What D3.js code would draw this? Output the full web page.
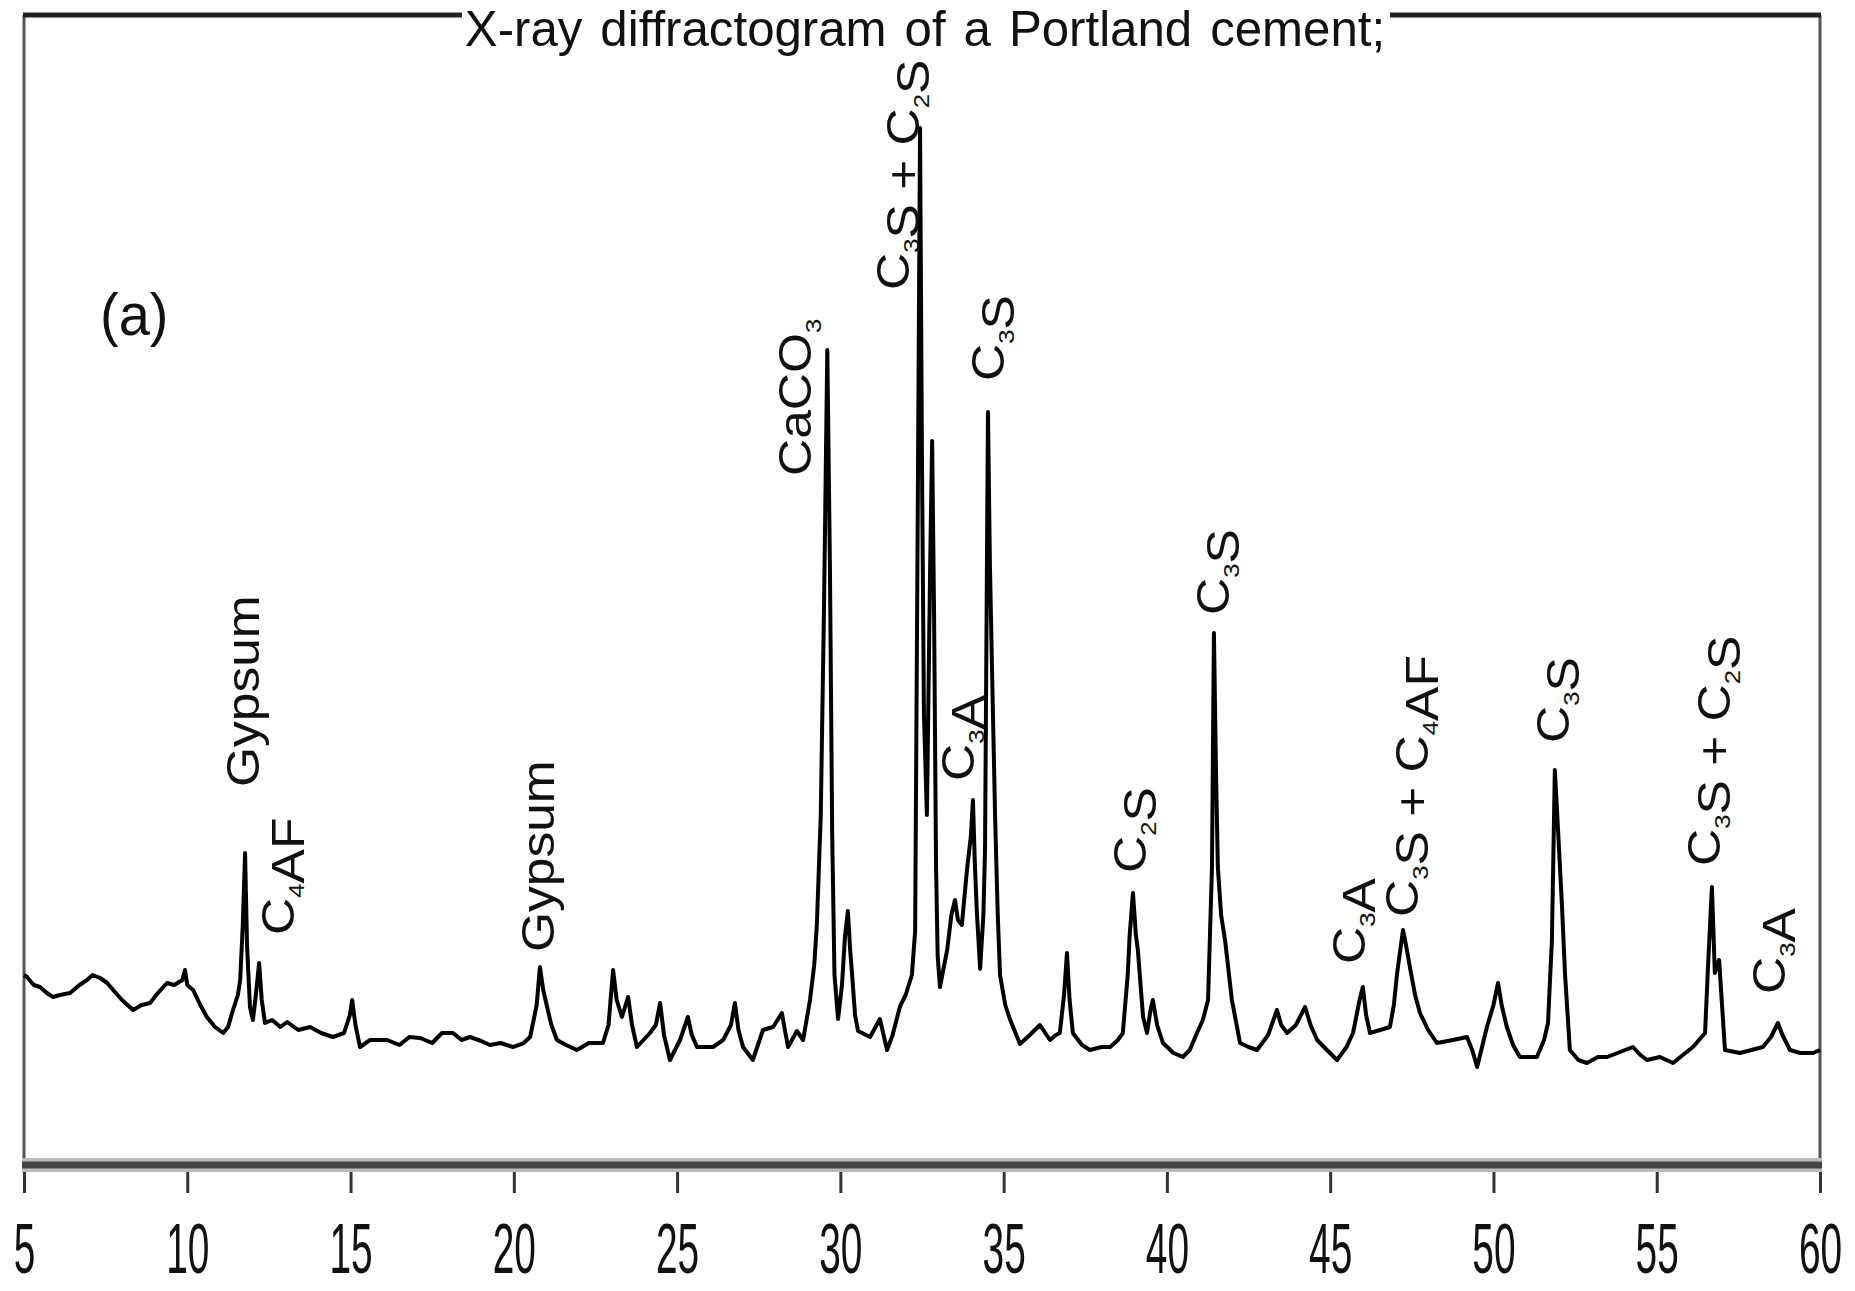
<!DOCTYPE html>
<html>
<head>
<meta charset="utf-8">
<script src="https://cdn.jsdelivr.net/npm/d3@7"></script>
<style>
  body { margin: 0; background: #fff; }
  svg { display: block; }
</style>
</head>
<body>
<svg width="1855" height="1291"></svg>
<script>
// 2-theta (degrees)
var twoTheta = [5.00,5.09,5.30,5.49,5.70,5.89,6.10,6.41,6.70,6.93,7.10,7.33,7.55,7.73,8.00,8.34,8.60,8.86,9.10,9.38,9.60,9.85,9.93,10.00,10.18,10.40,10.60,10.85,11.10,11.25,11.40,11.55,11.62,11.70,11.77,11.83,11.92,12.01,12.10,12.20,12.28,12.38,12.60,12.85,13.06,13.40,13.76,14.10,14.46,14.80,14.98,15.05,15.15,15.29,15.60,16.12,16.50,16.80,17.13,17.50,17.80,18.14,18.40,18.66,19.00,19.27,19.60,19.97,20.30,20.50,20.70,20.80,20.90,21.02,21.15,21.32,21.60,21.93,22.30,22.73,22.90,23.04,23.15,23.31,23.50,23.62,23.77,24.17,24.35,24.48,24.60,24.78,25.09,25.33,25.45,25.61,26.10,26.41,26.65,26.77,26.88,27.02,27.32,27.63,27.94,28.21,28.30,28.40,28.67,28.86,29.07,29.20,29.28,29.40,29.50,29.60,29.68,29.75,29.82,29.93,30.05,30.14,30.23,30.30,30.36,30.45,30.54,30.91,31.21,31.43,31.60,31.83,32.00,32.19,32.29,32.36,32.44,32.50,32.56,32.65,32.75,32.81,32.87,32.93,32.98,33.05,33.27,33.40,33.51,33.60,33.72,33.88,34.00,34.06,34.12,34.18,34.28,34.38,34.43,34.52,34.58,34.64,34.74,34.82,34.89,35.05,35.19,35.50,35.80,36.11,36.42,36.60,36.72,36.85,36.94,37.02,37.12,37.40,37.64,38.00,38.26,38.50,38.65,38.80,38.86,38.96,39.05,39.11,39.27,39.39,39.50,39.57,39.70,39.88,40.20,40.49,40.70,40.92,41.10,41.26,41.38,41.44,41.50,41.56,41.66,41.78,41.99,42.24,42.50,42.76,43.10,43.37,43.50,43.68,43.95,44.23,44.40,44.60,44.90,45.21,45.50,45.70,45.90,46.00,46.10,46.22,46.53,46.83,46.95,47.05,47.23,47.35,47.44,47.60,47.75,48.00,48.27,48.76,49.19,49.35,49.50,49.80,50.00,50.14,50.25,50.41,50.60,50.81,51.33,51.55,51.67,51.79,51.88,51.97,52.10,52.19,52.34,52.60,52.86,53.20,53.48,53.80,54.27,54.50,54.70,55.10,55.50,55.80,56.11,56.48,56.57,56.69,56.74,56.78,56.85,56.91,56.98,57.09,57.55,57.90,58.25,58.50,58.71,58.85,59.08,59.40,59.79,60.00];

// intensity (arbitrary counts)
var intensity = [190,188,180,178,172,168,170,172,180,185,190,187,182,175,165,155,160,162,172,182,180,185,195,180,175,160,148,138,132,138,155,170,185,240,312,220,158,145,170,202,165,142,145,138,143,135,138,132,128,132,150,165,140,118,125,125,120,128,127,122,132,132,125,128,124,120,122,118,122,128,160,198,175,158,140,125,120,115,122,122,140,195,165,148,168,140,118,132,140,162,130,105,125,148,130,118,118,125,140,162,135,118,105,135,138,152,135,118,134,125,165,200,240,350,560,815,600,330,190,146,180,228,254,215,190,150,134,128,146,115,130,159,170,190,234,600,1037,700,450,350,600,724,550,300,209,178,215,250,265,245,240,296,330,365,300,253,196,250,315,753,600,503,346,250,190,160,146,121,130,140,125,130,132,170,212,165,132,120,115,118,118,125,132,190,230,272,230,215,148,132,155,165,140,122,112,108,115,132,145,165,298,532,400,298,250,225,165,122,118,115,130,155,140,132,140,158,140,125,115,105,118,132,165,178,150,132,135,138,160,192,235,215,198,170,152,135,122,125,128,115,98,138,160,182,160,138,120,108,108,125,142,225,395,340,258,192,115,105,102,108,108,112,118,110,105,108,102,110,118,132,198,278,230,192,200,205,170,115,112,115,118,128,142,130,115,112,112,115];

// peak annotations: label text ("_n" = subscript), 2-theta of label, intensity where label starts
var peakLabels = ["Gypsum","C_4AF","Gypsum","CaCO_3","C_3S + C_2S","C_3A","C_3S","C_2S","C_3S","C_3A","C_3S + C_4AF","C_3S","C_3S + C_2S","C_3A"];
var labelTheta = [11.71,12.78,20.74,28.61,31.61,33.60,34.52,38.87,41.41,45.58,47.20,51.82,56.45,58.44];
var labelLevel = [378,230,213,689,875,384,784,292,550,201,248,422,299,171];

var tickValues = [5,10,15,20,25,30,35,40,45,50,55,60];
var title = "X-ray diffractogram of a Portland cement;";
var panel = "(a)";

var svg = d3.select("svg"),
    margin = {top: 15, right: 35, bottom: 126, left: 24},
    width = +svg.attr("width") - margin.left - margin.right,
    height = +svg.attr("height") - margin.top - margin.bottom;

var x = d3.scaleLinear().domain([5, 60]).range([margin.left, margin.left + width]);
var y = d3.scaleLinear().domain([0, 1150]).range([margin.top + height, margin.top]);

var font = "'Liberation Sans', Arial, Helvetica, sans-serif";

// frame
svg.append("line")
    .attr("x1", x(5)).attr("x2", x(5))
    .attr("y1", y(1150)).attr("y2", y(0))
    .attr("stroke", "#555").attr("stroke-width", 3);
svg.append("line")
    .attr("x1", x(60)).attr("x2", x(60))
    .attr("y1", y(1150)).attr("y2", y(0))
    .attr("stroke", "#555").attr("stroke-width", 3);
svg.append("line")
    .attr("x1", x(5) - 1).attr("x2", x(60) + 1)
    .attr("y1", y(1150)).attr("y2", y(1150))
    .attr("stroke", "#222").attr("stroke-width", 5);

// x axis
var axis = svg.append("g")
    .attr("transform", "translate(0," + y(0) + ")")
    .call(d3.axisBottom(x).tickValues(tickValues).tickSize(28).tickFormat(d3.format("d")));
axis.select(".domain").remove();
axis.selectAll(".tick line").attr("stroke", "#333").attr("stroke-width", 3);
axis.selectAll(".tick text").remove();
axis.selectAll(".tick").append("text")
    .attr("fill", "#111")
    .attr("font-family", font)
    .attr("font-size", 37)
    .attr("text-anchor", "middle")
    .attr("transform", "translate(0,108) scale(1.05,1.92)")
    .text(function(d) { return d; });
svg.append("line")
    .attr("x1", x(5) - 2).attr("x2", x(60) + 2)
    .attr("y1", y(0)).attr("y2", y(0))
    .attr("stroke", "#bbb").attr("stroke-width", 14);
svg.append("line")
    .attr("x1", x(5) - 2).attr("x2", x(60) + 2)
    .attr("y1", y(0)).attr("y2", y(0))
    .attr("stroke", "#444").attr("stroke-width", 7);

// diffractogram
var pts = twoTheta.map(function(t, i) { return [t, intensity[i]]; });
var line = d3.line()
    .x(function(d) { return x(d[0]); })
    .y(function(d) { return y(d[1]); });
svg.append("path")
    .datum(pts)
    .attr("fill", "none")
    .attr("stroke", "#000")
    .attr("stroke-width", 4)
    .attr("stroke-linejoin", "round")
    .attr("d", line);

// peak labels, rotated
function addLabel(sel, str, fs) {
    var parts = str.split(/_(\d)/);
    parts.forEach(function(p, i) {
        if (p === "") return;
        if (i % 2 === 1) {
            sel.append("tspan").attr("font-size", fs * 0.5).attr("dy", fs * 0.22).text(p);
            sel.append("tspan").attr("font-size", fs).attr("dy", -fs * 0.22).text("");
        } else {
            sel.append("tspan").text(p);
        }
    });
}
var labels = svg.append("g")
    .attr("font-family", font)
    .attr("font-size", 46)
    .attr("fill", "#111");
peakLabels.forEach(function(lab, i) {
    var t = labels.append("text")
        .attr("transform", "translate(" + x(labelTheta[i]) + "," + y(labelLevel[i]) + ") rotate(-90) scale(1.12,1)")
        .attr("dy", "0.35em")
        .attr("text-anchor", "start");
    addLabel(t, lab, 46);
});

// title over top border
svg.append("rect")
    .attr("x", 462).attr("y", 0)
    .attr("width", 928).attr("height", 60)
    .attr("fill", "#fff");
svg.append("text")
    .attr("font-family", font)
    .attr("font-size", 46)
    .attr("fill", "#111")
    .attr("text-anchor", "middle")
    .attr("word-spacing", 4)
    .attr("transform", "translate(" + ((x(5) + x(60)) / 2 + 3) + ",46) scale(1.07,1.1)")
    .text(title);

// panel letter
svg.append("text")
    .attr("font-family", font)
    .attr("font-size", 56)
    .attr("fill", "#111")
    .attr("transform", "translate(100,335) scale(1,1.06)")
    .text(panel);
</script>
</body>
</html>
